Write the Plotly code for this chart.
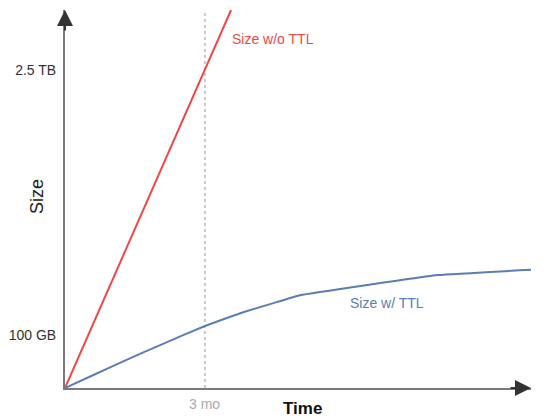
import plotly.graph_objects as go

# Data (schematic units: x in months, y in arbitrary size units)
months_no_ttl = [0, 3.56]
size_no_ttl = [0, 7.13]

months_ttl = [0, 0.61, 1.32, 2.04, 3.0, 3.82, 4.54, 5.04, 8.0, 10.0]
size_ttl = [0, 0.245, 0.53, 0.81, 1.17, 1.43, 1.62, 1.75, 2.13, 2.23]

marker_month = [3, 3]
marker_span = [0, 7.13]

y_tick_vals = [1, 6]
y_tick_text = ["100 GB", "2.5 TB"]
x_tick_vals = [3]
x_tick_text = ["3 mo"]

X_MAX = 9.99
Y_MAX = 7.13

FONT = "Liberation Sans, Arial, sans-serif"
RED = "#ef4747"
BLUE = "#5a7db4"

fig = go.Figure()
fig.add_trace(go.Scatter(x=marker_month, y=marker_span, mode="lines",
                         line=dict(color="#b8b8b8", width=1.5, dash="dot"),
                         hoverinfo="skip", cliponaxis=False))
fig.add_trace(go.Scatter(x=months_no_ttl, y=size_no_ttl, mode="lines",
                         line=dict(color=RED, width=2), cliponaxis=False))
fig.add_trace(go.Scatter(x=months_ttl, y=size_ttl, mode="lines",
                         line=dict(color=BLUE, width=2, shape="spline", smoothing=0.3),
                         cliponaxis=False))

annotations = [
    # arrow heads
    dict(x=0, y=Y_MAX, xref="x", yref="y", ax=0, ay=22, text="", showarrow=True,
         arrowhead=2, arrowsize=1.6, arrowwidth=2, arrowcolor="#333333"),
    dict(x=X_MAX, y=0, xref="x", yref="y", ax=-22, ay=0, text="", showarrow=True,
         arrowhead=2, arrowsize=1.6, arrowwidth=2, arrowcolor="#333333"),
    # series labels
    dict(x=3.56, y=size_no_ttl[1], xref="x", yref="y", text="Size w/o TTL", showarrow=False,
         xanchor="left", yanchor="middle", yshift=-29, xshift=-1,
         font=dict(family=FONT, size=14, color=RED)),
    dict(x=6.9, y=size_ttl[7], xref="x", yref="y", text="Size w/ TTL", showarrow=False,
         xanchor="center", yanchor="middle", yshift=-8,
         font=dict(family=FONT, size=14, color=BLUE)),
    # axis titles
    dict(x=0, y=0.5, xref="paper", yref="paper", text="Size", showarrow=False, textangle=-90,
         xanchor="center", yanchor="middle", xshift=-28, yshift=2,
         font=dict(family=FONT, size=18, color="#222222")),
    dict(x=5.1, y=0, xref="x", yref="y", text="<b>Time</b>", showarrow=False,
         xanchor="center", yanchor="top", yshift=-9,
         font=dict(family=FONT, size=17, color="#111111")),
]
for v, t in zip(x_tick_vals, x_tick_text):
    annotations.append(dict(x=v, y=0, xref="x", yref="y", text=t, showarrow=False,
                            xanchor="center", yanchor="top", yshift=-6,
                            font=dict(family=FONT, size=14, color="#aaaaaa")))

fig.update_layout(
    width=550, height=417,
    margin=dict(l=65, r=19, t=10, b=29),
    paper_bgcolor="white", plot_bgcolor="white",
    showlegend=False,
    annotations=annotations,
    xaxis=dict(range=[0, X_MAX], showgrid=False, zeroline=False, showline=True,
               linecolor="#7a7a7a", linewidth=2, showticklabels=False, ticks=""),
    yaxis=dict(range=[0, Y_MAX], showgrid=False, zeroline=False, showline=True,
               linecolor="#7a7a7a", linewidth=2, tickvals=y_tick_vals, ticktext=y_tick_text,
               ticks="", ticklabelstandoff=4,
               tickfont=dict(family=FONT, size=14, color="#333333")),
)

fig.write_html("out.html", config={"displayModeBar": False},
               post_script="document.body.style.margin='0';document.body.style.padding='0';")
